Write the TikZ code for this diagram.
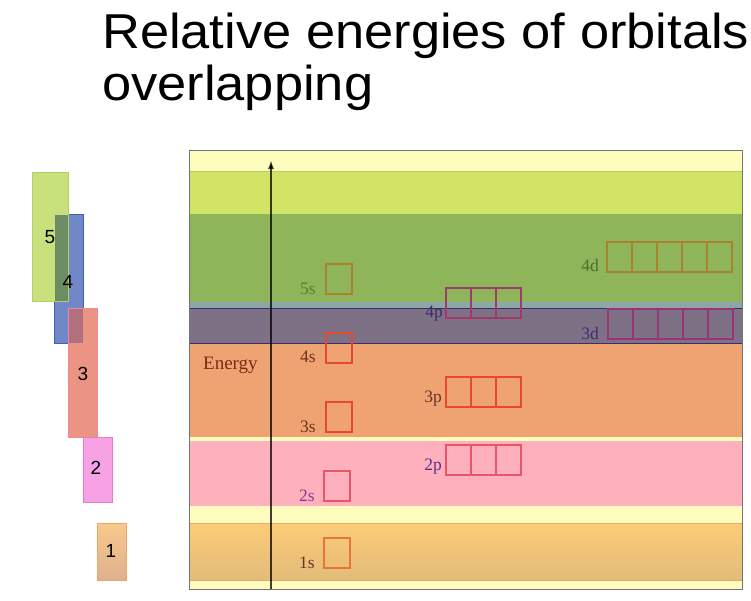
\documentclass[tikz,border=0pt]{standalone}
\usepackage{fontspec}
\setmainfont{Liberation Serif}
\newfontfamily\headfont{Liberation Sans}
\newfontfamily\ttlfont[FakeStretch=1.07]{Liberation Sans}
\usepackage{xcolor}
\usepackage{tikz}
\usetikzlibrary{arrows.meta,positioning}
\definecolor{bgyel}{HTML}{FFFDBD}
\definecolor{lgreen}{HTML}{D1E465}
\definecolor{dgreen}{HTML}{8EB55A}
\definecolor{bgrey}{HTML}{8CA7A6}
\definecolor{dpurp}{HTML}{7E7085}
\definecolor{orng}{HTML}{EFA372}
\definecolor{pnk}{HTML}{FFB0BD}
\definecolor{goldt}{HTML}{FCCB77}
\definecolor{goldb}{HTML}{E2BC7A}
\definecolor{barv}{HTML}{C8E17C}
\definecolor{barvd}{HTML}{B2D062}
\definecolor{bariv}{HTML}{7088C8}
\definecolor{barivd}{HTML}{4060A8}
\definecolor{bariii}{HTML}{EC9484}
\definecolor{bariiid}{HTML}{F08898}
\definecolor{barii}{HTML}{F8A2E6}
\definecolor{bariid}{HTML}{E878C8}
\definecolor{barit}{HTML}{F9C88C}
\definecolor{barib}{HTML}{DEB08E}
\definecolor{barid}{HTML}{E8A868}
\definecolor{ovvi}{HTML}{6E8C62}
\definecolor{ovivi}{HTML}{B2707E}
\definecolor{ered}{HTML}{E8482E}
\definecolor{epink}{HTML}{E8546A}
\definecolor{eorng}{HTML}{E8743A}
\definecolor{eolive}{HTML}{A8822E}
\definecolor{emag}{HTML}{A03A6A}
\definecolor{epurp}{HTML}{9A3478}
\definecolor{tbrown}{HTML}{6E3222}
\definecolor{tpurp}{HTML}{8A3A8A}
\definecolor{tviol}{HTML}{5E2E8A}
\definecolor{tolive}{HTML}{5E7A36}
\definecolor{tgreen}{HTML}{4E6E2A}
\definecolor{tnavy}{HTML}{3A2E6E}
\definecolor{engy}{HTML}{7A2A12}
\tikzset{
  orb/.style={rectangle, draw, line width=1.2pt, minimum width=25pt, minimum height=30pt,
              inner sep=0pt, outer sep=0pt, anchor=north west},
  sorb/.style={orb, minimum width=26pt},
  olab/.style={anchor=base east, inner sep=0pt, font=\fontsize{17.5}{17.5}\selectfont},
  bnum/.style={font=\headfont\fontsize{19}{19}\selectfont, inner sep=0pt},
  ttl/.style={font=\ttlfont\fontsize{49}{52}\selectfont, anchor=base west, inner sep=0pt}
}

\begin{document}
\begin{tikzpicture}[x=1pt, y=-1pt,
  axis/.style={-{Latex[length=9pt,width=6pt]}, line width=1.6pt, draw=black, draw opacity=0.75},
  sep/.style={line width=0.8pt}
]
\useasboundingbox (0,0) rectangle (751,600);
\node[ttl] (t1) at (102,48) {Relative energies of orbitals};
\node[ttl] (t2) at (102,100) {overlapping};

\filldraw[fill=bariv, draw=barivd] (54,214) rectangle (83,343);
\filldraw[fill=barv, draw=barvd] (32,172) rectangle (68,301);
\fill[ovvi] (54.5,214.5) rectangle (67.5,300.5);
\filldraw[fill=bariii, draw=bariiid] (68,308) rectangle (97,437);
\fill[ovivi] (68.5,308.5) rectangle (82.5,342.5);
\filldraw[fill=barii, draw=bariid] (83,437) rectangle (112,502);
\shade[top color=barit, bottom color=barib, draw=barid] (97,523) rectangle (126,580);
\node[bnum] (n5) at (50,237) {5};
\node[bnum] (n4) at (68,282) {4};
\node[bnum] (n3) at (83,374) {3};
\node[bnum] (n2) at (96,468) {2};
\node[bnum] (n1) at (111,551) {1};

\fill[bgyel] (189,150) rectangle (742,589);
\fill[lgreen] (189,171) rectangle (742,214);
\fill[dgreen] (189,214) rectangle (742,302);
\fill[bgrey] (189,302) rectangle (742,308);
\fill[dpurp] (189,308) rectangle (742,343);
\fill[orng] (189,343) rectangle (742,437);
\fill[pnk] (189,441) rectangle (742,506);
\shade[top color=goldt, bottom color=goldb] (189,523) rectangle (742,580);
\draw[sep, draw=barvd] (189,171) -- (742,171);
\draw[sep, draw=tnavy] (189,308) -- (742,308) (189,343) -- (742,343);
\draw[sep, draw=barid] (189,523) -- (742,523) (189,580) -- (742,580);
\draw[black!55] (189,150) rectangle (742,589);

\coordinate (axb) at (271,589);
\coordinate (axt) at (271,160);
\draw[axis] (axb) -- (axt);
\node[font=\fontsize{19}{19}\selectfont, text=engy, anchor=base west, inner sep=0pt] (elab) at (203,369) {Energy};

\node[sorb, draw=eorng] (s1) at (324,538) {};
\node[sorb, draw=epink] (s2) at (324,471) {};
\node[sorb, draw=ered] (s3) at (326,402) {};
\node[sorb, draw=ered] (s4) at (326,333) {};
\node[sorb, draw=eolive] (s5) at (326,264) {};
\foreach \i in {0,1,2} {
  \node[orb, draw=epink] (p2\i) at ({446+25*\i},445) {};
  \node[orb, draw=ered] (p3\i) at ({446+25*\i},377) {};
  \node[orb, draw=emag] (p4\i) at ({446+25*\i},288) {};
}
\foreach \i in {0,...,4} {
  \node[orb, draw=epurp] (d3\i) at ({608+25*\i},309) {};
  \node[orb, draw=eolive] (d4\i) at ({607+25*\i},242) {};
}

\node[olab, text=tbrown] (l1s) at ([xshift=-9pt]s1.south west) {1s};
\node[olab, text=tpurp] (l2s) at ([xshift=-9pt]s2.south west) {2s};
\node[olab, text=tbrown] (l3s) at ([xshift=-10pt]s3.south west) {3s};
\node[olab, text=tbrown] (l4s) at ([xshift=-10pt,yshift=1pt]s4.south west) {4s};
\node[olab, text=tolive] (l5s) at ([xshift=-10pt]s5.south west) {5s};
\node[olab, text=tviol] (l2p) at ([xshift=-4pt,yshift=5pt]p20.south west) {2p};
\node[olab, text=tbrown] (l3p) at ([xshift=-4pt,yshift=5pt]p30.south west) {3p};
\node[olab, text=tnavy] (l4p) at ([xshift=-3pt,yshift=1pt]p40.south west) {4p};
\node[olab, text=tnavy] (l3d) at ([xshift=-9pt]d30.south west) {3d};
\node[olab, text=tgreen] (l4d) at ([xshift=-8pt,yshift=1pt]d40.south west) {4d};
\end{tikzpicture}
\end{document}
